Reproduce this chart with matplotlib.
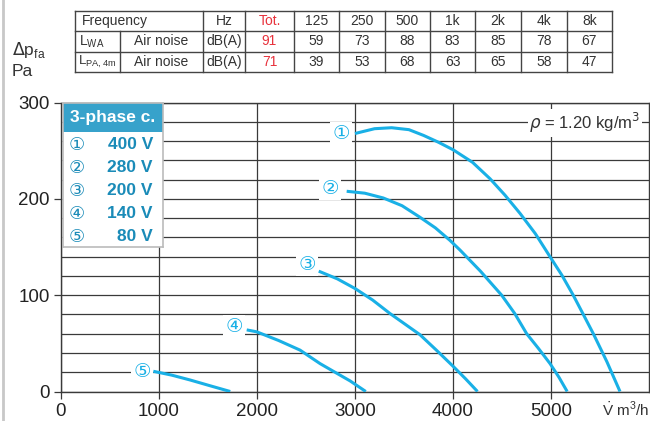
import matplotlib.pyplot as plt
from matplotlib.patches import Rectangle

plt.rcParams['font.family'] = ['Liberation Sans', 'DejaVu Sans']

# fan curves (flow m3/h, pressure Pa)
c1_x = [3000, 3200, 3374, 3550, 3700, 3850, 4003, 4200, 4378, 4530, 4684, 4840, 4990, 5110, 5227, 5330, 5432, 5570, 5704]
c1_y = [268, 273, 274, 272, 266, 259, 251, 238, 221, 204, 185, 164, 140, 121, 100, 80, 60, 31, 0]
c2_x = [2915, 3100, 3289, 3480, 3663, 3820, 3969, 4071, 4280, 4497, 4630, 4752, 4870, 4990, 5080, 5165]
c2_y = [208, 206, 201, 193, 181, 170, 157, 147, 125, 100, 81, 60, 45, 29, 15, 0]
c3_x = [2630, 2820, 3000, 3180, 3357, 3510, 3663, 3830, 4003, 4130, 4250]
c3_y = [125, 117, 107, 95, 81, 70, 59, 43, 26, 13, 0]
c4_x = [1895, 1997, 2220, 2439, 2643, 2779, 2950, 3110]
c4_y = [64, 62, 53, 43, 29, 21, 11, 0]
c5_x = [942, 1130, 1316, 1520, 1727]
c5_y = [21, 17, 12, 6, 0]
curves = [(c1_x, c1_y), (c2_x, c2_y), (c3_x, c3_y), (c4_x, c4_y), (c5_x, c5_y)]

marks = ['①', '②', '③', '④', '⑤']
mark_x = [2857, 2745, 2510, 1765, 827]
mark_y = [268, 211, 132, 68, 21]
voltages = ['400 V', '280 V', '200 V', '140 V', '80 V']

# noise table
bands = ['125', '250', '500', '1k', '2k', '4k', '8k']
lwa = [59, 73, 88, 83, 85, 78, 67]
lpa = [39, 53, 68, 63, 65, 58, 47]
lwa_tot = 91
lpa_tot = 71

blue = '#19b0e6'
dark_blue = '#1a8bb8'
grid_c = '#3a3a3a'

fig = plt.figure(figsize=(6.5, 4.21), dpi=100)
ax = fig.add_axes([61 / 650, 1 - 391.5 / 421, 588 / 650, 288.8 / 421])
ax.set_xlim(0, 6000)
ax.set_ylim(0, 300)
ax.set_xticks(range(0, 6000, 1000))
ax.set_yticks([0, 100, 200, 300])
ax.set_yticks(range(0, 301, 20), minor=True)
ax.grid(True, which='both', color=grid_c, lw=0.9)
ax.set_axisbelow(True)
ax.tick_params(which='major', length=5, width=0.9, color=grid_c, labelsize=13.5,
               labelcolor='#222', pad=3)
ax.tick_params(which='minor', length=0)
for s in ax.spines.values():
    s.set_color(grid_c)
    s.set_linewidth(1.0)

for (xs, ys) in curves:
    ax.plot(xs, ys, color=blue, lw=2.2, solid_capstyle='butt',
            solid_joinstyle='round', zorder=3)
for m, mx, my in zip(marks, mark_x, mark_y):
    ax.text(mx, my, m, color=blue, fontsize=14, ha='center', va='center',
            family=['DejaVu Sans', 'Noto Sans CJK JP'], zorder=4,
            bbox=dict(boxstyle='square,pad=0.1', fc='white', ec='none'))

ax.text(5347, 279, r'$\rho$ = 1.20 kg/m$^3$', fontsize=12, color='#333',
        ha='center', va='center', zorder=4,
        bbox=dict(boxstyle='square,pad=0.1', fc='white', ec='none'))

# legend box
lg = fig.add_axes([63 / 650, 1 - 247 / 421, 100 / 650, 144 / 421])
lg.set_xlim(0, 100)
lg.set_ylim(144, 0)
lg.set_xticks([])
lg.set_yticks([])
for s in lg.spines.values():
    s.set_color('#bbbbbb')
    s.set_linewidth(1.2)
lg.add_patch(Rectangle((0, 0), 100, 29, fc='#37a2cb', ec='none'))
lg.text(50, 15, '3-phase c.', color='white', fontsize=12.5, fontweight='bold',
        ha='center', va='center')
for i, (m, v) in enumerate(zip(marks, voltages)):
    yy = 42 + i * 23
    lg.text(14, yy, m, color=dark_blue, fontsize=13, ha='center', va='center',
            family=['DejaVu Sans', 'Noto Sans CJK JP'])
    lg.text(90, yy, v, color=dark_blue, fontsize=12.5, fontweight='bold',
            ha='right', va='center')

# overlay in pixel coords for table and axis labels
ov = fig.add_axes([0, 0, 1, 1], zorder=-1)
ov.set_xlim(0, 650)
ov.set_ylim(421, 0)
ov.axis('off')
ov.plot([3, 3], [0, 421], color='#c8c8c8', lw=2)

tab_font = ['Liberation Sans', 'DejaVu Sans']
col_edges = [75, 203, 245, 294, 339, 385, 430, 475, 521, 567, 612]
row_edges = [10.7, 31, 51.7, 72.3]
for xe in col_edges:
    ov.plot([xe, xe], [row_edges[0], row_edges[-1]], color='#444', lw=1)
ov.plot([120, 120], [row_edges[1], row_edges[-1]], color='#444', lw=1)
for ye in row_edges:
    ov.plot([75, 612], [ye, ye], color='#444', lw=1)

rows_y = [(row_edges[i] + row_edges[i + 1]) / 2 for i in range(3)]
centers = [(col_edges[i] + col_edges[i + 1]) / 2 for i in range(1, len(col_edges) - 1)]
red = '#e8323c'
kw = dict(fontsize=10, va='center', ha='center', color='#333', family=tab_font)
ov.text(82, rows_y[0], 'Frequency', **{**kw, 'ha': 'left'})
ov.text(centers[0], rows_y[0], 'Hz', **kw)
ov.text(centers[1], rows_y[0], 'Tot.', **{**kw, 'color': red})
ov.text(79, rows_y[1], r'L$_\mathregular{WA}$', **{**kw, 'ha': 'left'})
ov.text(78, rows_y[2], r'L$_\mathregular{PA,4m}$', **{**kw, 'ha': 'left', 'fontsize': 9.5})
for r in (1, 2):
    ov.text(161.5, rows_y[r], 'Air noise', **kw)
    ov.text(centers[0], rows_y[r], 'dB(A)', **kw)
ov.text(centers[1], rows_y[1], str(lwa_tot), **{**kw, 'color': red})
ov.text(centers[1], rows_y[2], str(lpa_tot), **{**kw, 'color': red})
for b, a, p, cx in zip(bands, lwa, lpa, centers[2:]):
    ov.text(cx, rows_y[0], b, **kw)
    ov.text(cx, rows_y[1], str(a), **kw)
    ov.text(cx, rows_y[2], str(p), **kw)

ov.text(12, 50, r'$\Delta$p$_\mathregular{fa}$', fontsize=12.5, color='#333', va='center')
ov.text(12, 71, 'Pa', fontsize=12.5, color='#333', va='center')
ov.text(649, 410, r'$\dot{\mathregular{V}}$ m$^\mathregular{3}$/h', fontsize=11,
        color='#333', ha='right', va='center')

fig.savefig('out.png', dpi=100)
